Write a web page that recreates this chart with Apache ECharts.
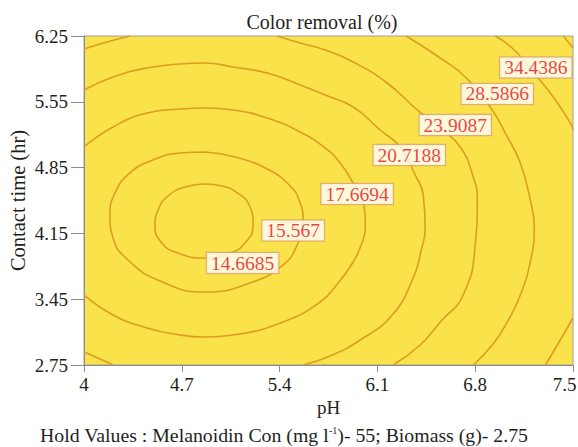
<!DOCTYPE html>
<html><head><meta charset="utf-8">
<script src="https://cdn.jsdelivr.net/npm/echarts@6/dist/echarts.min.js"></script>
<style>html,body{margin:0;padding:0;background:#fff}#c{width:578px;height:447px}</style>
</head><body><div id="c"></div>
<script>
// Axis ticks
const xTicks = [4, 4.7, 5.4, 6.1, 6.8, 7.5];
const xTickLabels = ['4', '4.7', '5.4', '6.1', '6.8', '7.5'];
const yTicks = [2.75, 3.45, 4.15, 4.85, 5.55, 6.25];
const yTickLabels = ['2.75', '3.45', '4.15', '4.85', '5.55', '6.25'];

// Contour lines [pH, contact time]
const c146685 = [[4.867,4.676],[4.723,4.644],[4.602,4.548],[4.530,4.399],[4.508,4.229],[4.551,4.059],[4.652,3.952],[4.867,3.888],[5.031,3.931],[5.153,4.048],[5.210,4.239],[5.182,4.452],[5.089,4.590],[4.988,4.654],[4.867,4.676]];
const c15567 = [[4.867,5.016],[4.688,5.005],[4.494,4.931],[4.329,4.793],[4.222,4.580],[4.186,4.346],[4.208,4.101],[4.315,3.867],[4.544,3.644],[4.867,3.527],[5.189,3.622],[5.425,3.814],[5.526,4.027],[5.568,4.271],[5.540,4.505],[5.461,4.676],[5.311,4.835],[5.081,4.963],[4.867,5.016]];
const c176694 = [[4,5.069],[4.208,5.282],[4.451,5.431],[4.688,5.473],[4.867,5.484],[5.067,5.463],[5.311,5.378],[5.547,5.229],[5.726,5.059],[5.833,4.899],[5.927,4.686],[5.998,4.505],[6.013,4.207],[5.984,4.027],[5.927,3.846],[5.819,3.622],[5.690,3.420],[5.425,3.208],[5.067,3.069],[4.867,3.048],[4.688,3.069],[4.451,3.144],[4.208,3.282],[4,3.495]];
const c207188 = [[4,5.676],[4.208,5.814],[4.451,5.910],[4.688,5.952],[4.867,5.963],[5.067,5.920],[5.311,5.856],[5.547,5.729],[5.726,5.622],[5.927,5.495],[6.120,5.250],[6.263,5.069],[6.371,4.771],[6.428,4.559],[6.442,4.207],[6.414,3.973],[6.356,3.676],[6.206,3.282],[5.977,3.016],[5.762,2.846],[5.568,2.75]];
const c207188b = [[4,2.888],[4.115,2.814],[4.208,2.75]];
const c239087a = [[4,6.112],[4.165,6.186],[4.329,6.25]];
const c239087 = [[5.382,6.25],[5.547,6.176],[5.726,6.101],[5.927,5.973],[6.170,5.750],[6.385,5.463],[6.550,5.271],[6.693,5.069],[6.786,4.750],[6.815,4.505],[6.800,4.027],[6.714,3.495],[6.550,3.208],[6.406,2.963],[6.213,2.75]];
const c285866 = [[6.306,6.25],[6.571,5.995],[6.729,5.814],[6.908,5.495],[7.030,5.176],[7.123,4.899],[7.194,4.505],[7.223,4.207],[7.194,3.846],[7.123,3.495],[7.030,3.208],[6.922,2.963],[6.786,2.75]];
const c344386 = [[6.944,6.25],[7.080,6.101],[7.244,5.814],[7.359,5.601],[7.481,5.324],[7.5,5.250]];
const c344386b = [[7.5,3.250],[7.409,3.016],[7.302,2.75]];
const cTopRight = [[7.431,6.25],[7.5,6.122]];

// Contour labels
const levelLabels = ['14.6685','15.567','17.6694','20.7188','23.9087','28.5866','34.4386'];
const labelX = [5.135,5.497,5.955,6.328,6.657,6.958,7.234];
const labelY = [3.835,4.181,4.569,4.984,5.303,5.633,5.915];

const contours = [c146685, c15567, c176694, c207188, c207188b, c239087a, c239087, c285866, c344386, c344386b, cTopRight];

const FONT = '"Liberation Serif", "Times New Roman", serif';
const TXT = '#231f20';

function nearestIndex(v, ticks) {
  let bi = 0;
  for (let i = 1; i < ticks.length; i++) if (Math.abs(ticks[i]-v) < Math.abs(ticks[bi]-v)) bi = i;
  return bi;
}

const series = contours.map(d => ({
  type: 'line', data: d, smooth: 0.5, showSymbol: false, symbol: 'none',
  lineStyle: { color: '#dd9d22', width: 1.6 }, silent: true, z: 2, clip: true
}));
series.push({
  type: 'scatter', z: 5, symbolSize: 1,
  itemStyle: { color: 'rgba(0,0,0,0)' },
  data: levelLabels.map((t, i) => [labelX[i], labelY[i], t]),
  label: {
    show: true, position: 'inside', formatter: p => p.value[2],
    color: '#e8101c', fontFamily: FONT, fontSize: 19.5, lineHeight: 19,
    backgroundColor: '#ffffff', borderColor: '#d9a46a', borderWidth: 1.2,
    padding: [1, 4, 0, 4]
  }
});

const chart = echarts.init(document.getElementById('c'), null, { renderer: 'svg' });
chart.setOption({
  animation: false,
  backgroundColor: '#ffffff',
  grid: { left: 84, right: 5, top: 36, bottom: 82, show: true, containLabel: false,
          outerBoundsMode: 'none',
          backgroundColor: '#f9e24a', borderColor: '#a0a0a0', borderWidth: 1 },
  xAxis: {
    type: 'value', min: 4, max: 7.5,
    name: 'pH', nameLocation: 'middle', nameGap: 33, nameMoveOverlap: false,
    nameTextStyle: { fontFamily: FONT, fontSize: 19, color: TXT },
    axisLine: { show: true, lineStyle: { color: '#8c8c8c', width: 1 } },
    axisTick: { show: true, length: 7, customValues: xTicks, lineStyle: { color: '#8c8c8c' } },
    axisLabel: { customValues: xTicks, margin: 10, fontFamily: FONT, fontSize: 19, color: TXT,
                 formatter: v => {
                   const i = nearestIndex(v, xTicks);
                   return i === xTicks.length - 1 ? '{last|' + xTickLabels[i] + '}' : xTickLabels[i];
                 },
                 rich: { last: { fontFamily: FONT, fontSize: 19, color: TXT, padding: [0, 17, 0, 0] } } },
    splitLine: { show: false }
  },
  yAxis: {
    type: 'value', min: 2.75, max: 6.25,
    name: 'Contact time (hr)', nameLocation: 'middle', nameGap: 56, nameMoveOverlap: false,
    nameTextStyle: { fontFamily: FONT, fontSize: 20.5, color: TXT },
    axisLine: { show: true, lineStyle: { color: '#8c8c8c', width: 1 } },
    axisTick: { show: true, length: 13, customValues: yTicks, lineStyle: { color: '#8c8c8c' } },
    axisLabel: { customValues: yTicks, margin: 16, fontFamily: FONT, fontSize: 19, color: TXT,
                 formatter: v => yTickLabels[nearestIndex(v, yTicks)] },
    splitLine: { show: false }
  },
  graphic: [
    { type: 'text', x: 322, y: 22, style: { text: 'Color removal (%)', fontFamily: FONT, fontSize: 20,
      fill: TXT, textAlign: 'center', textVerticalAlign: 'middle' } },
    { type: 'text', x: 40, y: 435, style: {
      text: '{n|Hold Values : Melanoidin Con (mg l}{s|-1}{n|)- 55; Biomass (g)- 2.75}',
      textAlign: 'left', textVerticalAlign: 'middle', fill: TXT,
      rich: { n: { fontFamily: FONT, fontSize: 19.8, fill: TXT, verticalAlign: 'bottom', lineHeight: 20 },
              s: { fontFamily: FONT, fontSize: 10, fill: TXT, verticalAlign: 'top', lineHeight: 20 } } } }
  ],
  series: series
});
</script></body></html>
